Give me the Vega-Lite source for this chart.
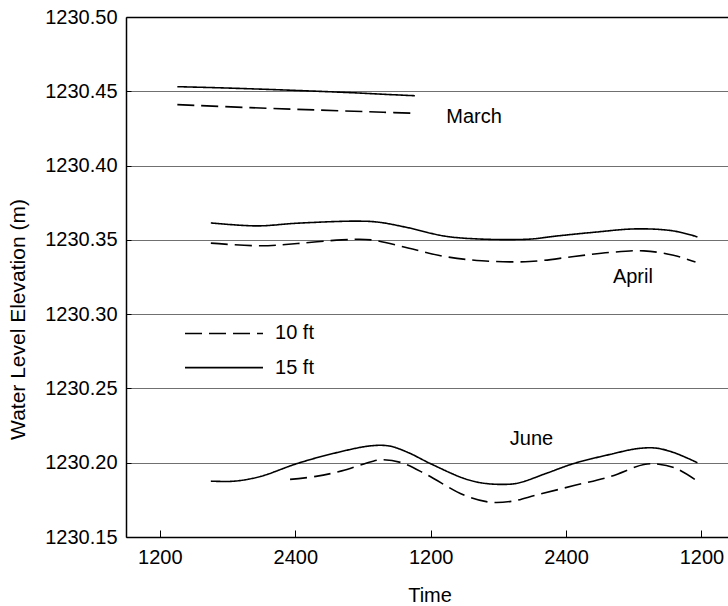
{
  "$schema": "https://vega.github.io/schema/vega-lite/v6.json",
  "width": 602,
  "height": 520,
  "autosize": {"type": "none"},
  "padding": {"left": 126, "top": 17, "right": 0, "bottom": 69},
  "background": "white",
  "config": {
    "view": {"stroke": null},
    "font": "Liberation Sans",
    "text": {"font": "Liberation Sans"}
  },
  "datasets": {
    "levels": [
      {"month": "March", "depth": "15 ft", "hours": 13.55, "elev": 1230.4531},
      {"month": "March", "depth": "15 ft", "hours": 17.04, "elev": 1230.4524},
      {"month": "March", "depth": "15 ft", "hours": 22.94, "elev": 1230.4509},
      {"month": "March", "depth": "15 ft", "hours": 28.85, "elev": 1230.4491},
      {"month": "March", "depth": "15 ft", "hours": 31.8, "elev": 1230.4480},
      {"month": "March", "depth": "15 ft", "hours": 34.6, "elev": 1230.4470},
      {"month": "March", "depth": "10 ft", "hours": 13.55, "elev": 1230.4410},
      {"month": "March", "depth": "10 ft", "hours": 19.99, "elev": 1230.4390},
      {"month": "March", "depth": "10 ft", "hours": 25.9, "elev": 1230.4374},
      {"month": "March", "depth": "10 ft", "hours": 31.8, "elev": 1230.4359},
      {"month": "March", "depth": "10 ft", "hours": 34.6, "elev": 1230.4352},
      {"month": "April", "depth": "15 ft", "hours": 16.52, "elev": 1230.3614},
      {"month": "April", "depth": "15 ft", "hours": 20.6, "elev": 1230.3594},
      {"month": "April", "depth": "15 ft", "hours": 24.19, "elev": 1230.3612},
      {"month": "April", "depth": "15 ft", "hours": 29.42, "elev": 1230.3626},
      {"month": "April", "depth": "15 ft", "hours": 31.38, "elev": 1230.3619},
      {"month": "April", "depth": "15 ft", "hours": 33.99, "elev": 1230.3582},
      {"month": "April", "depth": "15 ft", "hours": 37.26, "elev": 1230.3525},
      {"month": "April", "depth": "15 ft", "hours": 40.53, "elev": 1230.3505},
      {"month": "April", "depth": "15 ft", "hours": 44.77, "elev": 1230.3505},
      {"month": "April", "depth": "15 ft", "hours": 47.07, "elev": 1230.3525},
      {"month": "April", "depth": "15 ft", "hours": 50.33, "elev": 1230.3550},
      {"month": "April", "depth": "15 ft", "hours": 54.25, "elev": 1230.3574},
      {"month": "April", "depth": "15 ft", "hours": 57.52, "elev": 1230.3560},
      {"month": "April", "depth": "15 ft", "hours": 59.64, "elev": 1230.3520},
      {"month": "April", "depth": "10 ft", "hours": 16.52, "elev": 1230.3478},
      {"month": "April", "depth": "10 ft", "hours": 20.93, "elev": 1230.3460},
      {"month": "April", "depth": "10 ft", "hours": 24.19, "elev": 1230.3475},
      {"month": "April", "depth": "10 ft", "hours": 28.12, "elev": 1230.3500},
      {"month": "April", "depth": "10 ft", "hours": 30.73, "elev": 1230.3500},
      {"month": "April", "depth": "10 ft", "hours": 33.99, "elev": 1230.3445},
      {"month": "April", "depth": "10 ft", "hours": 37.26, "elev": 1230.3388},
      {"month": "April", "depth": "10 ft", "hours": 40.53, "elev": 1230.3359},
      {"month": "April", "depth": "10 ft", "hours": 44.77, "elev": 1230.3354},
      {"month": "April", "depth": "10 ft", "hours": 48.70, "elev": 1230.3388},
      {"month": "April", "depth": "10 ft", "hours": 51.96, "elev": 1230.3416},
      {"month": "April", "depth": "10 ft", "hours": 54.90, "elev": 1230.3426},
      {"month": "April", "depth": "10 ft", "hours": 57.52, "elev": 1230.3396},
      {"month": "April", "depth": "10 ft", "hours": 59.47, "elev": 1230.3351},
      {"month": "June", "depth": "15 ft", "hours": 16.52, "elev": 1230.1876},
      {"month": "June", "depth": "15 ft", "hours": 18.64, "elev": 1230.1876},
      {"month": "June", "depth": "15 ft", "hours": 20.93, "elev": 1230.1908},
      {"month": "June", "depth": "15 ft", "hours": 24.19, "elev": 1230.1995},
      {"month": "June", "depth": "15 ft", "hours": 27.46, "elev": 1230.2064},
      {"month": "June", "depth": "15 ft", "hours": 30.73, "elev": 1230.2114},
      {"month": "June", "depth": "15 ft", "hours": 32.36, "elev": 1230.2112},
      {"month": "June", "depth": "15 ft", "hours": 33.99, "elev": 1230.2069},
      {"month": "June", "depth": "15 ft", "hours": 35.95, "elev": 1230.1995},
      {"month": "June", "depth": "15 ft", "hours": 38.89, "elev": 1230.1896},
      {"month": "June", "depth": "15 ft", "hours": 40.53, "elev": 1230.1864},
      {"month": "June", "depth": "15 ft", "hours": 42.49, "elev": 1230.1854},
      {"month": "June", "depth": "15 ft", "hours": 43.80, "elev": 1230.1864},
      {"month": "June", "depth": "15 ft", "hours": 46.41, "elev": 1230.1933},
      {"month": "June", "depth": "15 ft", "hours": 48.70, "elev": 1230.1995},
      {"month": "June", "depth": "15 ft", "hours": 51.96, "elev": 1230.2057},
      {"month": "June", "depth": "15 ft", "hours": 54.25, "elev": 1230.2094},
      {"month": "June", "depth": "15 ft", "hours": 55.89, "elev": 1230.2099},
      {"month": "June", "depth": "15 ft", "hours": 57.52, "elev": 1230.2069},
      {"month": "June", "depth": "15 ft", "hours": 59.64, "elev": 1230.2000},
      {"month": "June", "depth": "10 ft", "hours": 23.54, "elev": 1230.1888},
      {"month": "June", "depth": "10 ft", "hours": 25.83, "elev": 1230.1908},
      {"month": "June", "depth": "10 ft", "hours": 28.12, "elev": 1230.1945},
      {"month": "June", "depth": "10 ft", "hours": 30.73, "elev": 1230.2007},
      {"month": "June", "depth": "10 ft", "hours": 31.71, "elev": 1230.2020},
      {"month": "June", "depth": "10 ft", "hours": 33.34, "elev": 1230.2002},
      {"month": "June", "depth": "10 ft", "hours": 35.62, "elev": 1230.1921},
      {"month": "June", "depth": "10 ft", "hours": 38.89, "elev": 1230.1784},
      {"month": "June", "depth": "10 ft", "hours": 41.18, "elev": 1230.1735},
      {"month": "June", "depth": "10 ft", "hours": 43.14, "elev": 1230.1740},
      {"month": "June", "depth": "10 ft", "hours": 45.43, "elev": 1230.1784},
      {"month": "June", "depth": "10 ft", "hours": 48.70, "elev": 1230.1846},
      {"month": "June", "depth": "10 ft", "hours": 51.96, "elev": 1230.1908},
      {"month": "June", "depth": "10 ft", "hours": 54.90, "elev": 1230.1988},
      {"month": "June", "depth": "10 ft", "hours": 56.21, "elev": 1230.1990},
      {"month": "June", "depth": "10 ft", "hours": 57.85, "elev": 1230.1958},
      {"month": "June", "depth": "10 ft", "hours": 59.64, "elev": 1230.1876}
    ],
    "monthLabels": [
      {"label": "March", "hours": 39.84, "elev": 1230.433},
      {"label": "April", "hours": 53.92, "elev": 1230.325},
      {"label": "June", "hours": 44.94, "elev": 1230.216}
    ],
    "key": [
      {"depth": "10 ft", "start": 14.23, "end": 21.14, "textAt": 22.21, "elev": 1230.287},
      {"depth": "15 ft", "start": 14.23, "end": 21.14, "textAt": 22.21, "elev": 1230.264}
    ]
  },
  "layer": [
    {
      "data": {"name": "levels"},
      "mark": {"type": "line", "interpolate": "catmull-rom", "color": "black", "strokeWidth": 1.6},
      "encoding": {
        "x": {
          "field": "hours", "type": "quantitative",
          "scale": {"domain": [9, 62.35], "nice": false, "zero": false},
          "axis": {
            "values": [12, 24, 36, 48, 60],
            "labelExpr": "datum.value % 24 == 0 ? '2400' : '1200'",
            "grid": false,
            "tickSize": -7, "tickColor": "black", "tickWidth": 1,
            "domainColor": "black", "domainWidth": 1.5,
            "labelFont": "Liberation Sans", "labelFontSize": 20, "labelColor": "black",
            "labelPadding": 17, "labelFlush": false, "labelOverlap": false,
            "title": "Time", "titleFont": "Liberation Sans", "titleFontSize": 20,
            "titleFontWeight": "normal", "titleColor": "black",
            "titleX": 303.5, "titleY": 64, "titleAlign": "center", "titleBaseline": "alphabetic"
          }
        },
        "y": {
          "field": "elev", "type": "quantitative",
          "scale": {"domain": [1230.15, 1230.5], "nice": false, "zero": false},
          "axis": {
            "values": [1230.15, 1230.2, 1230.25, 1230.3, 1230.35, 1230.4, 1230.45, 1230.5],
            "format": ".2f",
            "grid": true,
            "gridColor": {"condition": {"test": "datum.value > 1230.49", "value": "black"}, "value": "#707070"},
            "gridWidth": {"condition": {"test": "datum.value > 1230.49", "value": 1.5}, "value": 1},
            "tickSize": -5, "tickColor": "black",
            "domainColor": "black", "domainWidth": 1.5,
            "labelFont": "Liberation Sans", "labelFontSize": 20, "labelColor": "black",
            "labelPadding": 14, "labelFlush": false, "labelOverlap": false,
            "title": "Water Level Elevation (m)", "titleFont": "Liberation Sans", "titleFontSize": 21,
            "titleFontWeight": "normal", "titleColor": "black",
            "titleAngle": 270, "titleX": -108, "titleY": 302, "titleAlign": "center", "titleBaseline": "middle"
          }
        },
        "detail": {"field": "month"},
        "strokeDash": {
          "field": "depth", "type": "nominal",
          "scale": {"domain": ["10 ft", "15 ft"], "range": [[17, 7], [1, 0]]},
          "legend": null
        }
      }
    },
    {
      "data": {"name": "monthLabels"},
      "mark": {"type": "text", "fontSize": 20, "color": "black", "align": "center", "baseline": "middle", "font": "Liberation Sans"},
      "encoding": {
        "x": {"field": "hours", "type": "quantitative"},
        "y": {"field": "elev", "type": "quantitative"},
        "text": {"field": "label"}
      }
    },
    {
      "data": {"name": "key"},
      "mark": {"type": "rule", "color": "black", "strokeWidth": 1.6},
      "encoding": {
        "x": {"field": "start", "type": "quantitative"},
        "x2": {"field": "end"},
        "y": {"field": "elev", "type": "quantitative"},
        "strokeDash": {"field": "depth", "type": "nominal", "legend": null}
      }
    },
    {
      "data": {"name": "key"},
      "mark": {"type": "text", "fontSize": 20, "color": "black", "align": "left", "baseline": "middle", "font": "Liberation Sans"},
      "encoding": {
        "x": {"field": "textAt", "type": "quantitative"},
        "y": {"field": "elev", "type": "quantitative"},
        "text": {"field": "depth"}
      }
    }
  ]
}
